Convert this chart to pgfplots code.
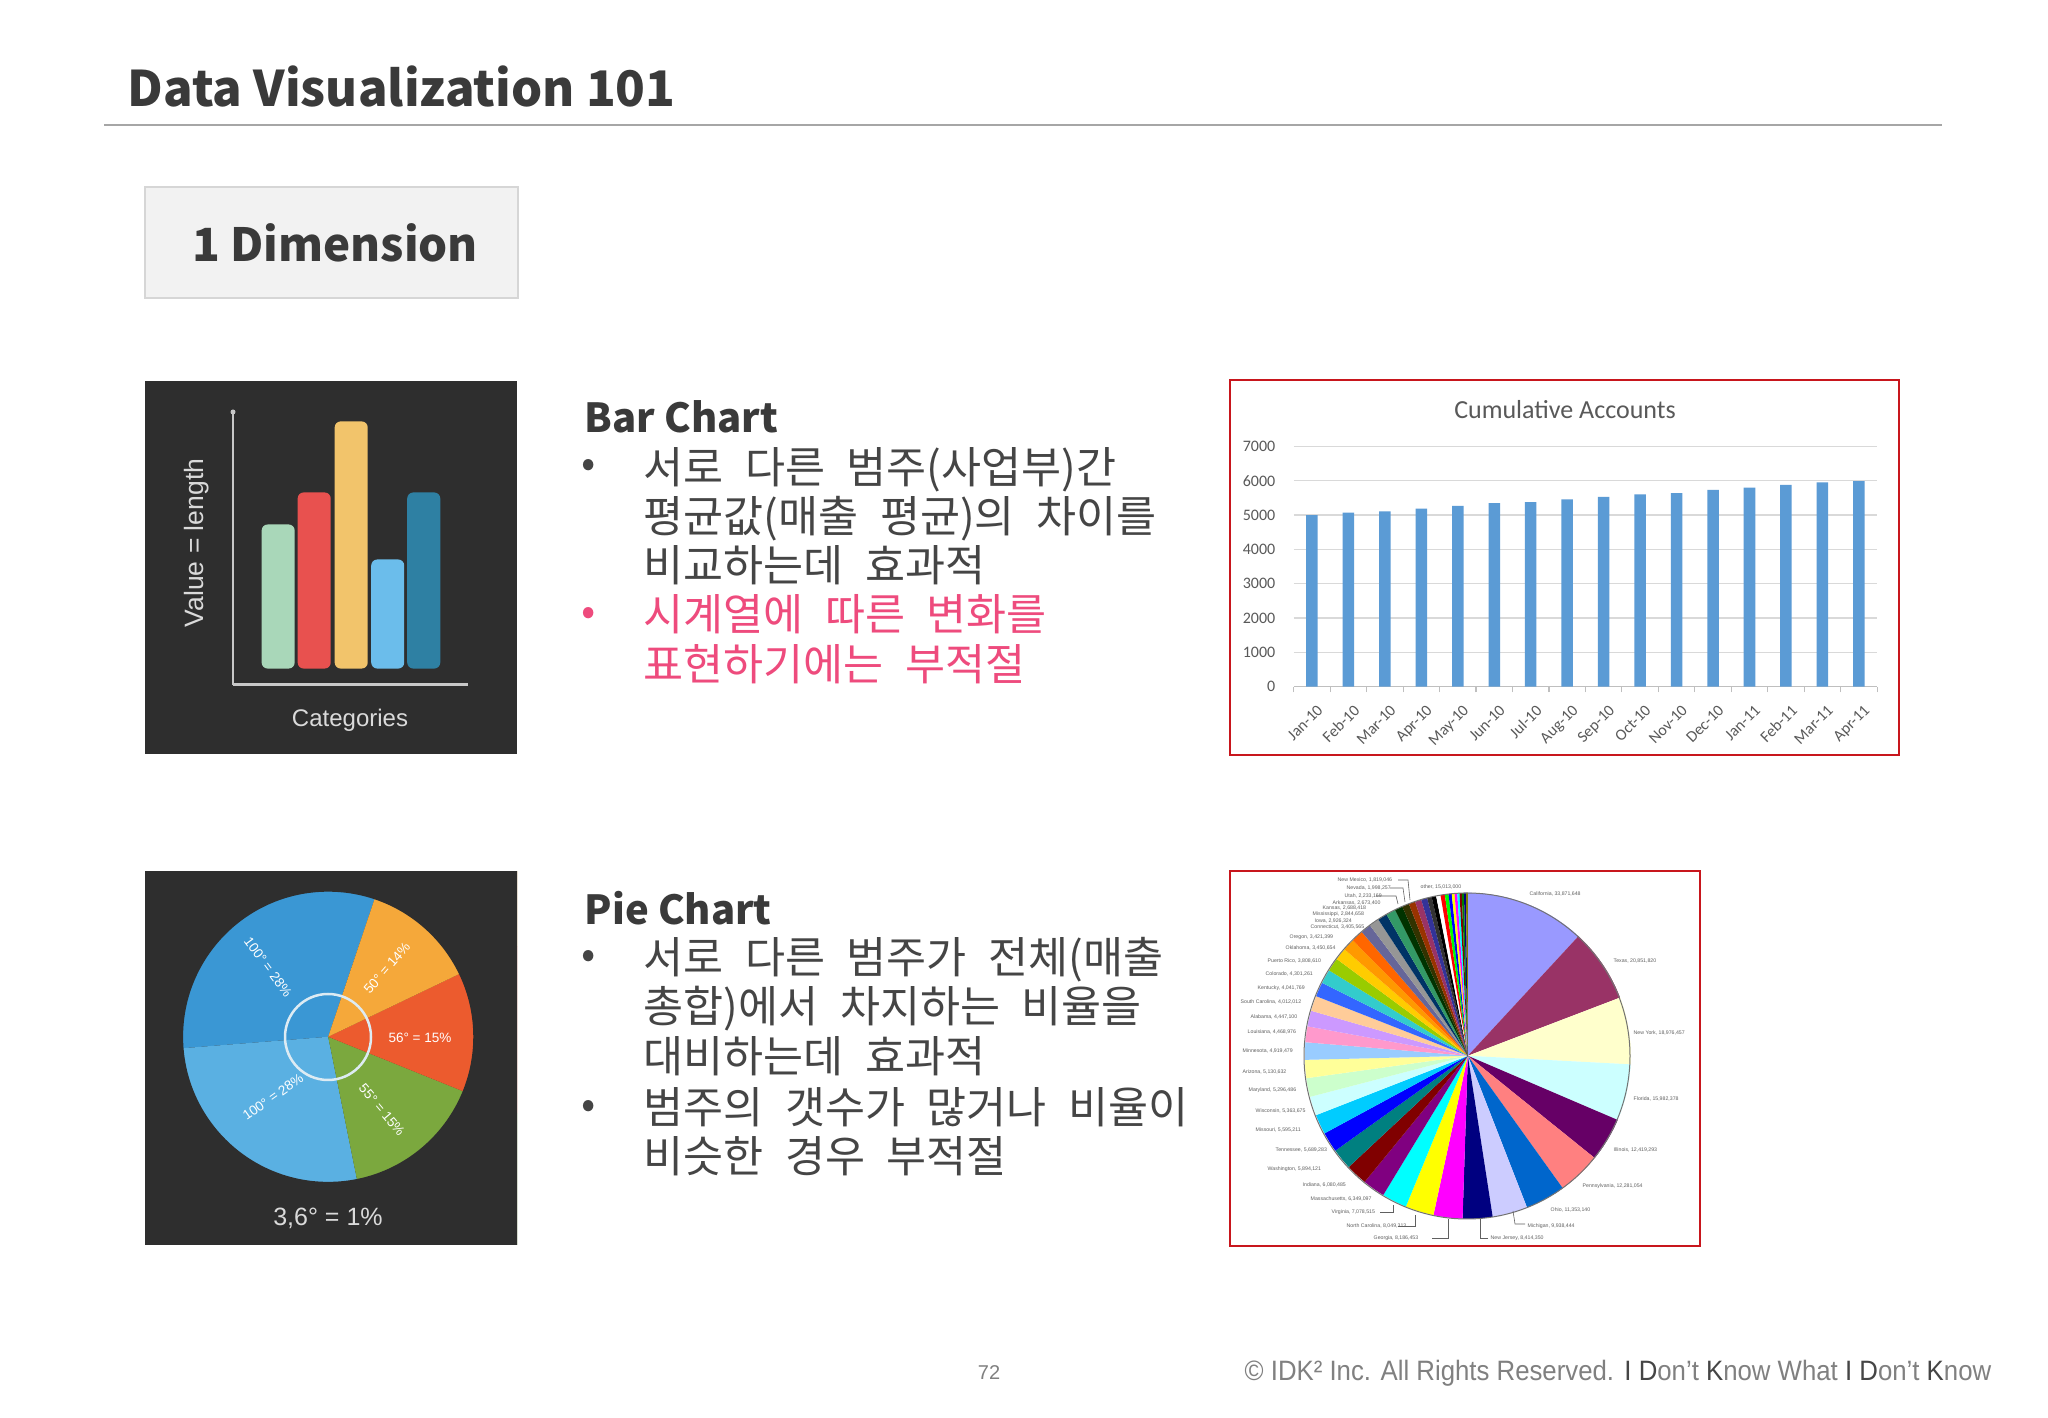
\documentclass[border=0pt]{standalone}
\usepackage{fontspec}
\usepackage{pgfplots}
\pgfplotsset{compat=1.18}
\setmainfont{Noto Sans CJK KR}
\newfontfamily\krbody{Noto Sans CJK KR}[WordSpace=2.2]
\newfontfamily\calfont{Carlito}
\newfontfamily\arfont{Liberation Sans}

\definecolor{txt}{HTML}{454545}
\definecolor{titletxt}{HTML}{3A3A3A}
\definecolor{redtxt}{HTML}{EE4B7D}
\definecolor{framered}{HTML}{C8161D}
\definecolor{iconbg}{HTML}{2E2E2E}
\definecolor{iconaxis}{HTML}{C8C8C8}
\definecolor{icontxt}{HTML}{DADADA}
\definecolor{mint}{HTML}{A9D7B9}
\definecolor{ired}{HTML}{E8514F}
\definecolor{iyel}{HTML}{F2C46B}
\definecolor{ilblue}{HTML}{6BBDEB}
\definecolor{iteal}{HTML}{2E80A3}
\definecolor{pblue}{HTML}{3A97D4}
\definecolor{plblue}{HTML}{5AB0E2}
\definecolor{pgreen}{HTML}{7BA83E}
\definecolor{pred}{HTML}{EC5B2E}
\definecolor{porange}{HTML}{F5A83A}
\definecolor{innerc}{HTML}{DDEBF3}
\definecolor{barblue}{HTML}{5B9BD5}
\definecolor{gridgray}{HTML}{D9D9D9}
\definecolor{axisgray}{HTML}{BFBFBF}
\definecolor{labgray}{HTML}{595959}
\definecolor{boxfill}{HTML}{F2F2F2}
\definecolor{boxline}{HTML}{D6D6D6}
\definecolor{rulegray}{HTML}{A6A6A6}
\definecolor{footgray}{HTML}{808080}
\definecolor{lblgray}{HTML}{606060}
% Excel 2003 pie palette
\definecolor{c1}{HTML}{9999FF}\definecolor{c2}{HTML}{993366}\definecolor{c3}{HTML}{FFFFCC}\definecolor{c4}{HTML}{CCFFFF}
\definecolor{c5}{HTML}{660066}\definecolor{c6}{HTML}{FF8080}\definecolor{c7}{HTML}{0066CC}\definecolor{c8}{HTML}{CCCCFF}
\definecolor{c9}{HTML}{000080}\definecolor{c10}{HTML}{FF00FF}\definecolor{c11}{HTML}{FFFF00}\definecolor{c12}{HTML}{00FFFF}
\definecolor{c13}{HTML}{800080}\definecolor{c14}{HTML}{800000}\definecolor{c15}{HTML}{008080}\definecolor{c16}{HTML}{0000FF}
\definecolor{c17}{HTML}{00CCFF}\definecolor{c18}{HTML}{CCFFFF}\definecolor{c19}{HTML}{CCFFCC}\definecolor{c20}{HTML}{FFFF99}
\definecolor{c21}{HTML}{99CCFF}\definecolor{c22}{HTML}{FF99CC}\definecolor{c23}{HTML}{CC99FF}\definecolor{c24}{HTML}{FFCC99}
\definecolor{c25}{HTML}{3366FF}\definecolor{c26}{HTML}{33CCCC}\definecolor{c27}{HTML}{99CC00}\definecolor{c28}{HTML}{FFCC00}
\definecolor{c29}{HTML}{FF9900}\definecolor{c30}{HTML}{FF6600}\definecolor{c31}{HTML}{666699}\definecolor{c32}{HTML}{969696}
\definecolor{c33}{HTML}{003366}\definecolor{c34}{HTML}{339966}\definecolor{c35}{HTML}{003300}\definecolor{c36}{HTML}{333300}
\definecolor{c37}{HTML}{993300}\definecolor{c38}{HTML}{993366}\definecolor{c39}{HTML}{333399}\definecolor{c40}{HTML}{333333}
\definecolor{c41}{HTML}{000000}\definecolor{c42}{HTML}{FFFFFF}\definecolor{c43}{HTML}{FF0000}\definecolor{c44}{HTML}{00FF00}
\definecolor{c45}{HTML}{0000FF}\definecolor{c46}{HTML}{FFFF00}\definecolor{c47}{HTML}{FF00FF}\definecolor{c48}{HTML}{00FFFF}
\definecolor{c49}{HTML}{800000}\definecolor{c50}{HTML}{008000}\definecolor{c51}{HTML}{000080}\definecolor{c52}{HTML}{808000}

% slice: colour, start angle, end angle (polar data)
\newcommand{\psl}[3]{\addplot[fill=#1,draw=none,data cs=polar] coordinates {(0,0) (#2,1.5) (#3,1.5)} -- cycle;}
\newcommand{\isl}[3]{\addplot[fill=#1,draw=none,data cs=polar] coordinates {(0,0) (#2,2.5) (#3,2.5)} -- cycle;}

\begin{document}
\begin{tikzpicture}[x=0.01cm,y=0.01cm]
\fill[white] (0,0) rectangle (2048,1418);

% ---------- title ----------
\node[anchor=base west, inner sep=0, text=titletxt, font=\fontsize{0.49cm}{0.58cm}\selectfont\bfseries] at (127,1311) {Data Visualization 101};
\draw[rulegray, line width=0.02cm] (104,1293) -- (1942,1293);

% ---------- 1 Dimension box ----------
\draw[fill=boxfill, draw=boxline, line width=0.015cm] (145,1231) rectangle (518,1120);
\node[anchor=base, inner sep=0, text=titletxt, font=\fontsize{0.457cm}{0.54cm}\selectfont\bfseries] at (335,1156) {1 Dimension};

% ---------- icon backgrounds ----------
\fill[iconbg] (145,1037) rectangle (517,664);
\fill[iconbg] (145,546) rectangle (517,173);

% ---------- icon bar chart ----------
\begin{axis}[at={(2.33cm,7.33cm)}, anchor=south west, width=2.35cm, height=2.73cm, scale only axis,
  xmin=0, xmax=235, ymin=-16, ymax=257,
  axis lines=left, axis line style={draw=iconaxis, line width=0.022cm, -},
  ticks=none, ybar, bar width=0.33cm, bar shift=0pt, clip=false]
\addplot[fill=mint, draw=none, bar shift=0pt, rounded corners=0.06cm] coordinates {(45,144)};
\addplot[fill=ired, draw=none, bar shift=0pt, rounded corners=0.06cm] coordinates {(81,176)};
\addplot[fill=iyel, draw=none, bar shift=0pt, rounded corners=0.06cm] coordinates {(118,247)};
\addplot[fill=ilblue, draw=none, bar shift=0pt, rounded corners=0.06cm] coordinates {(154.5,109)};
\addplot[fill=iteal, draw=none, bar shift=0pt, rounded corners=0.06cm] coordinates {(190.5,176)};
\end{axis}
\fill[iconaxis] (233,1006) circle[radius=2.5];
\node[rotate=90, inner sep=0, text=icontxt, font=\arfont\fontsize{0.265cm}{0.3cm}\selectfont] at (197,875) {Value = length};
\node[inner sep=0, text=icontxt, font=\arfont\fontsize{0.24cm}{0.28cm}\selectfont] at (350,698) {Categories};

% ---------- icon pie chart ----------
\begin{axis}[at={(1.45cm,1.7307cm)}, anchor=south west, x=1.45cm, y=1.45cm,
  xmin=-1.262, xmax=1.303, ymin=-1.434, ymax=1.138,
  axis line style={draw=none}, ticks=none]
\isl{pblue}{71.4}{184.5}
\isl{plblue}{184.5}{281.4}
\isl{pgreen}{-78.6}{-22}
\isl{pred}{-22}{25.6}
\isl{porange}{25.6}{71.4}
\fill[iconbg, even odd rule] (axis cs:-3,-3) rectangle (axis cs:3,3) (axis cs:0,0) circle[radius=1.45cm];
\end{axis}
\draw[innerc, line width=0.025cm] (328,381) circle[radius=43];
\begin{scope}[every node/.style={inner sep=0, text=white, font=\arfont\fontsize{0.135cm}{0.16cm}\selectfont}]
\node[rotate=-53.6] at (268,451) {100° = 28\%};
\node[rotate=49] at (387,450) {50° = 14\%};
\node at (420,380) {56° = 15\%};
\node[rotate=-50] at (382,308) {55° = 15\%};
\node[rotate=35] at (273,321) {100° = 28\%};
\end{scope}
\node[inner sep=0, text=icontxt, font=\arfont\fontsize{0.25cm}{0.3cm}\selectfont] at (328,200) {3,6° = 1\%};

% ---------- Bar chart text ----------
\node[anchor=base west, inner sep=0, text=titletxt, font=\fontsize{0.40cm}{0.48cm}\selectfont\bfseries] at (584,985) {Bar Chart};
\begin{scope}[every node/.style={anchor=base west, inner sep=0, font=\krbody\fontsize{0.435cm}{0.5cm}\selectfont}]
\node[text=txt] at (643,934.5) {서로 다른 범주(사업부)간};
\node[text=txt] at (643,885) {평균값(매출 평균)의 차이를};
\node[text=txt] at (643,836.5) {비교하는데 효과적};
\node[text=redtxt] at (643,787) {시계열에 따른 변화를};
\node[text=redtxt] at (643,737.5) {표현하기에는 부적절};
\end{scope}
\node[inner sep=0, text=txt, font=\fontsize{0.42cm}{0.5cm}\selectfont] at (589,949.5) {•};
\node[inner sep=0, text=redtxt, font=\fontsize{0.42cm}{0.5cm}\selectfont] at (589,802) {•};

% ---------- Pie chart text ----------
\node[anchor=base west, inner sep=0, text=titletxt, font=\fontsize{0.40cm}{0.48cm}\selectfont\bfseries] at (584,493) {Pie Chart};
\begin{scope}[every node/.style={anchor=base west, inner sep=0, text=txt, font=\krbody\fontsize{0.435cm}{0.5cm}\selectfont}]
\node at (643,444) {서로 다른 범주가 전체(매출};
\node at (643,395) {총합)에서 차지하는 비율을};
\node at (643,345) {대비하는데 효과적};
\node at (643,294) {범주의 갯수가 많거나 비율이};
\node at (643,245) {비슷한 경우 부적절};
\end{scope}
\node[inner sep=0, text=txt, font=\fontsize{0.42cm}{0.5cm}\selectfont] at (589,459) {•};
\node[inner sep=0, text=txt, font=\fontsize{0.42cm}{0.5cm}\selectfont] at (589,309) {•};

% ---------- Cumulative Accounts bar chart ----------
\node[anchor=base, inner sep=0, text=labgray, font=\calfont\fontsize{0.26cm}{0.3cm}\selectfont] at (1565,999) {Cumulative Accounts};
\begin{axis}[at={(12.93cm,7.31cm)}, anchor=south west, width=5.83cm, height=2.40cm, scale only axis,
  xmin=-0.5, xmax=15.5, ymin=0, ymax=7000,
  axis x line*=bottom, axis y line*=left,
  y axis line style={draw=none},
  x axis line style={draw=axisgray, line width=0.012cm, -},
  xtick={0,...,15},
  xticklabels={Jan-10,Feb-10,Mar-10,Apr-10,May-10,Jun-10,Jul-10,Aug-10,Sep-10,Oct-10,Nov-10,Dec-10,Jan-11,Feb-11,Mar-11,Apr-11},
  minor xtick={-0.5,0.5,...,15.5},
  ytick={0,1000,...,7000},
  scaled y ticks=false,
  ymajorgrids, major grid style={draw=gridgray, line width=0.012cm},
  major tick length=0pt, minor tick length=0.055cm, tick align=outside,
  minor tick style={draw=axisgray, line width=0.012cm},
  tick label style={font=\calfont\fontsize{0.16cm}{0.19cm}\selectfont, text=labgray},
  /pgf/number format/assume math mode=true,
  /pgf/number format/1000 sep={},
  yticklabel style={xshift=-0.06cm},
  xticklabel style={rotate=45, anchor=north east, yshift=-0.03cm, xshift=0.03cm},
  ybar, bar width=0.115cm]
\addplot[fill=barblue, draw=none] coordinates {
(0,5000) (1,5070) (2,5110) (3,5190) (4,5270) (5,5350) (6,5380) (7,5460)
(8,5530) (9,5600) (10,5640) (11,5730) (12,5800) (13,5880) (14,5950) (15,5990)};
\end{axis}

% ---------- US population pie (2000 census + Puerto Rico) ----------
\begin{axis}[at={(12.3228cm,1.7455cm)}, anchor=south west, x=1.63cm, y=1.63cm,
  xmin=-1.44, xmax=1.42, ymin=-1.15, ymax=1.12,
  axis line style={draw=none}, ticks=none]
\psl{c1}{90}{47.25}
\psl{c2}{47.25}{20.93}
\psl{c3}{20.93}{-3.02}
\psl{c4}{-3.02}{-23.19}
\psl{c5}{-23.19}{-38.87}
\psl{c6}{-38.87}{-54.37}
\psl{c7}{-54.37}{-68.70}
\psl{c8}{-68.70}{-81.24}
\psl{c9}{-81.24}{-91.86}
\psl{c10}{-91.86}{-102.19}
\psl{c11}{-102.19}{-112.35}
\psl{c12}{-112.35}{-121.28}
\psl{c13}{-121.28}{-129.29}
\psl{c14}{-129.29}{-136.96}
\psl{c15}{-136.96}{-144.40}
\psl{c16}{-144.40}{-151.58}
\psl{c17}{-151.58}{-158.64}
\psl{c18}{-158.64}{-165.41}
\psl{c19}{-165.41}{-172.09}
\psl{c20}{-172.09}{-178.57}
\psl{c21}{-178.57}{-184.78}
\psl{c22}{-184.78}{-190.42}
\psl{c23}{-190.42}{-196.03}
\psl{c24}{-196.03}{-201.46}
\psl{c25}{-201.46}{-206.56}
\psl{c26}{-206.56}{-211.62}
\psl{c27}{-211.62}{-216.43}
\psl{c28}{-216.43}{-220.79}
\psl{c29}{-220.79}{-225.11}
\psl{c30}{-225.11}{-229.41}
\psl{c31}{-229.41}{-233.10}
\psl{c32}{-233.10}{-236.69}
\psl{c33}{-236.69}{-240.08}
\psl{c34}{-240.08}{-243.45}
\psl{c35}{-243.45}{-246.27}
\psl{c36}{-246.27}{-248.79}
\psl{c37}{-248.79}{-251.09}
\psl{c38}{-251.09}{-253.37}
\psl{c39}{-253.37}{-255.53}
\psl{c40}{-255.53}{-257.16}
\psl{c41}{-257.16}{-258.77}
\psl{c42}{-258.77}{-260.33}
\psl{c43}{-260.33}{-261.86}
\psl{c44}{-261.86}{-263.18}
\psl{c45}{-263.18}{-264.32}
\psl{c46}{-264.32}{-265.31}
\psl{c47}{-265.31}{-266.26}
\psl{c48}{-266.26}{-267.07}
\psl{c49}{-267.07}{-267.86}
\psl{c50}{-267.86}{-268.63}
\psl{c51}{-268.63}{-269.35}
\psl{c52}{-269.35}{-270}
\fill[white, even odd rule] (axis cs:-3,-3) rectangle (axis cs:3,3) (axis cs:0,0) circle[radius=1.63cm];
\end{axis}
\draw[black!55, line width=0.01cm] (1467,362) circle[radius=163];
\begin{scope}[every node/.style={anchor=west, inner sep=0, text=lblgray, font=\arfont\fontsize{0.052cm}{0.062cm}\selectfont}]
\foreach \x/\y/\t in {
1529/524/{California, 33,871,648}, 1613/457/{Texas, 20,851,820}, 1633/385/{New York, 18,976,457},
1633/319/{Florida, 15,982,378}, 1613/268/{Illinois, 12,419,293}, 1582/232/{Pennsylvania, 12,281,054},
1550/208/{Ohio, 11,353,140}, 1527/192/{Michigan, 9,938,444}, 1490/180/{New Jersey, 8,414,350},
1373/180/{Georgia, 8,186,453}, 1346/192/{North Carolina, 8,049,313}, 1331/206/{Virginia, 7,078,515},
1310/219/{Massachusetts, 6,349,097}, 1302/233/{Indiana, 6,080,485}, 1267/249/{Washington, 5,894,121},
1275/268/{Tennessee, 5,689,283}, 1255/288/{Missouri, 5,595,211}, 1255/307/{Wisconsin, 5,363,675},
1248/328/{Maryland, 5,296,486}, 1242/346/{Arizona, 5,130,632}, 1242/367/{Minnesota, 4,919,479},
1247/386/{Louisiana, 4,468,976}, 1250/401/{Alabama, 4,447,100}, 1240/416/{South Carolina, 4,012,012},
1257/430/{Kentucky, 4,041,769}, 1265/444/{Colorado, 4,301,261}, 1267/457/{Puerto Rico, 3,808,610},
1285/470/{Oklahoma, 3,450,654}, 1289/481/{Oregon, 3,421,399}, 1310/491/{Connecticut, 3,405,565},
1314/497/{Iowa, 2,926,324}, 1312/504/{Mississippi, 2,844,658}, 1322/510/{Kansas, 2,688,418},
1332/515/{Arkansas, 2,673,400}, 1344/522/{Utah, 2,233,169}, 1346/530/{Nevada, 1,998,257},
1337/538/{New Mexico, 1,819,046}, 1420/531/{other, 15,013,000}}
{\node at (\x,\y) {\t};}
\end{scope}
% leader lines
\begin{scope}[lblgray, line width=0.006cm]
\draw (1380,206) -- (1393,206) -- (1393,213);
\draw (1398,192) -- (1415,192) -- (1415,203);
\draw (1432,180) -- (1448,180) -- (1448,199);
\draw (1488,180) -- (1480,180) -- (1480,199);
\draw (1525,194) -- (1515,194) -- (1513,207);
\draw (1398,538) -- (1408,538) -- (1410,518);
\draw (1390,530) -- (1403,530) -- (1405,516);
\draw (1376,522) -- (1396,522) -- (1398,514);
\end{scope}

% ---------- frames ----------
\draw[framered, line width=0.02cm] (1230,1038) rectangle (1899,663);
\draw[framered, line width=0.02cm] (1230,547) rectangle (1700,172);

% ---------- footer ----------
\node[inner sep=0, text=footgray, font=\arfont\fontsize{0.2cm}{0.24cm}\selectfont] at (989,45) {72};
\node[anchor=west, inner sep=0, text=footgray, font=\arfont\fontsize{0.28cm}{0.32cm}\selectfont] at (1244,45)
 {\scalebox{0.92}[1]{© IDK² Inc. All Rights Reserved.\hspace{0.4em}{\color{txt}I} {\color{txt}D}on’t {\color{txt}K}now What {\color{txt}I} {\color{txt}D}on’t {\color{txt}K}now}};
\end{tikzpicture}
\end{document}
